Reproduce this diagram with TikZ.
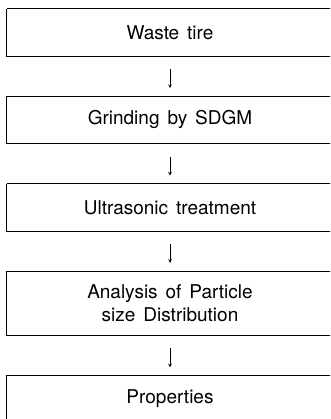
\documentclass[tikz,border=0pt]{standalone}
\usepackage{fontspec}
\setmainfont[WordSpace=1.5]{TeX Gyre Heros}
\usetikzlibrary{arrows,positioning}
\tikzstyle{stage} = [
  rectangle,
  minimum width=326pt,
  minimum height=47pt,
  align=center,
  font=\fontsize{19}{23}\selectfont,
]
\tikzstyle{frame} = [
  line width=0.8pt,
]
\tikzstyle{flow} = [
  ->,
  >=stealth,
  line width=0.7pt,
  shorten <=13pt,
  shorten >=8pt,
]

\begin{document}
\begin{tikzpicture}[
    node distance=40pt,
  ]
  \useasboundingbox (0,0) rectangle (330pt,-419pt);
  \clip (0,0) rectangle (330pt,-419pt);
  \node[
    stage,
  ](tire) at (170pt,-32.5pt){Waste tire};
  \node[
    stage,
    below=of tire,
  ](grind){Grinding by SDGM};
  \node[
    stage,
    below=of grind,
  ](sonic){Ultrasonic treatment};
  \node[
    stage,
    minimum height=64pt,
    below=of sonic,
  ](psd){Analysis of Particle\\size Distribution};
  \node[
    stage,
    below=of psd,
  ](prop){Properties};
  % boxes run off the right edge of the page, so no right side
  \foreach \n in {tire,grind,sonic,psd,prop}{
    \draw [frame] (\n.north west) -- ++(400pt,0);
    \draw [frame] (\n.north west) -- (\n.south west) -- ++(400pt,0);
  }
  \path [flow] (tire) edge (grind);
  \path [flow] (grind) edge (sonic);
  \path [flow] (sonic) edge (psd);
  \path [flow] (psd) edge (prop);
\end{tikzpicture}
\end{document}
